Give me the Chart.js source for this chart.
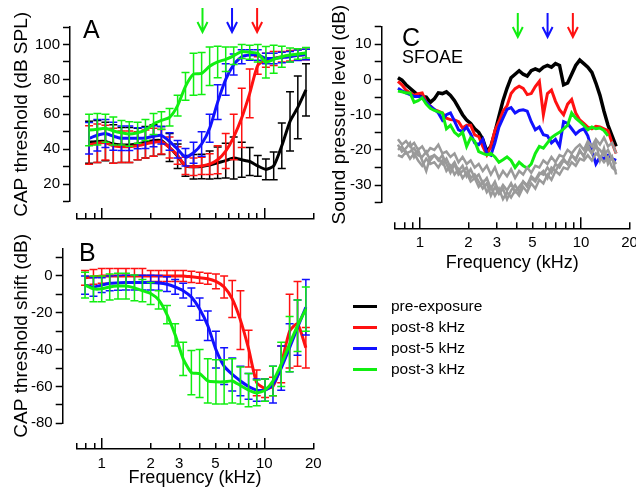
<!DOCTYPE html>
<html><head><meta charset="utf-8">
<script src="https://cdn.jsdelivr.net/npm/chart.js@4.4.1/dist/chart.umd.min.js"></script>
<style>
html,body{margin:0;padding:0;background:#fff;}
#wrap{position:relative;width:636px;height:491px;overflow:hidden;font-family:"Liberation Sans",Arial,sans-serif;color:#000;}
canvas{position:absolute;}
.t{position:absolute;white-space:nowrap;line-height:1;color:#000;}
.ln{position:absolute;height:3px;width:24px;}
</style></head><body><div id="wrap">
<canvas id="aP" width="330" height="240" style="left:0;top:0"></canvas>
<canvas id="aX" width="330" height="240" style="left:0;top:0"></canvas>
<canvas id="bP" width="330" height="261" style="left:0;top:230px"></canvas>
<canvas id="bX" width="330" height="261" style="left:0;top:230px"></canvas>
<canvas id="cP" width="330" height="280" style="left:320px;top:0"></canvas>
<canvas id="cX" width="330" height="280" style="left:320px;top:0"></canvas>
<div class="t" style="left:83px;top:17px;font-size:25px">A</div>
<div class="t" style="left:79px;top:240px;font-size:25px">B</div>
<div class="t" style="left:402px;top:25px;font-size:25px">C</div>
<div class="t" style="left:402px;top:48px;font-size:18px">SFOAE</div>
<div id="legend"></div>
</div>
<script>
// ---------- data ----------
const seriesNames = ['pre-exposure', 'post-8 kHz', 'post-5 kHz', 'post-3 kHz'];
const seriesColors = ['#000000', '#ff1111', '#1111ff', '#11ee11'];
const noiseColor = '#9a9a9a';

const xTickVals = [0.7, 0.8, 0.9, 1, 2, 3, 4, 5, 6, 7, 8, 9, 10, 20];
const xMajorTicks = [1, 10];
const xTickLabels = [1, 2, 3, 5, 10, 20];
const arrowFreqs = [4.05, 6.2, 8.9];
const arrowColors = ['#11ee11', '#1111ff', '#ff1111'];

// Panel A / B : CAP frequencies (kHz)
const capFreqs = [0.79, 0.89, 1.0, 1.12, 1.26, 1.41, 1.59, 1.78, 2.0, 2.24, 2.52, 2.83, 3.17, 3.56, 4.0, 4.49, 5.04, 5.66, 6.35, 7.13, 8.0, 8.98, 10.1, 11.3, 12.7, 14.3, 16.0, 18.0];

// Panel A : CAP thresholds (dB SPL) and error bars
const capPre   = [44, 44.5, 44.5, 43, 42.5, 42.5, 43, 44, 45, 45, 41, 36, 30.5, 30, 30.2, 31, 32.3, 33.5, 35, 34, 33, 30.5, 28.5, 30.5, 42, 56, 64, 74];
const capPost8 = [42.5, 43.5, 43.8, 42, 41.5, 41.5, 42, 43, 44, 44.3, 41, 36.5, 30.5, 30, 30.5, 31.5, 34, 39, 47, 58, 72, 88, 91, 92, 93, 93.5, 94, 94.2];
const capPost5 = [46.3, 48, 49, 47.5, 46.3, 46.3, 46.3, 46.5, 47.5, 48, 44.5, 40, 35.5, 38, 43, 52, 67, 80, 88.5, 93, 94, 94, 92, 92, 92.5, 93, 93.8, 94.2];
const capPost3 = [51, 51.5, 52, 50.5, 49.5, 48.7, 49.5, 51, 54.5, 56.5, 58.3, 65, 76, 83, 83.4, 87.5, 90, 91.5, 93.5, 96, 95.5, 95, 89.8, 91.5, 93, 94, 94.5, 95.2];
const capPreErr   = [12, 12, 11, 11, 10, 10, 9, 9, 9, 8, 8, 7, 6, 7, 7, 8, 9, 10, 12, 10, 8, 6, 6, 8, 13, 17, 18, 15];
const capPost8Err = [11, 11, 10, 10, 9, 9, 8, 8, 8, 7, 6, 5, 5, 5, 5, 6, 8, 10, 13, 17, 14, 5, 4, 4, 3, 3, 3, 3];
const capPost5Err = [9, 9, 8, 8, 7, 7, 6, 6, 6, 5, 5, 5, 5, 6, 7, 8, 10, 9, 6, 4, 3, 3, 3, 3, 3, 3, 3, 3];
const capPost3Err = [9, 9, 8, 8, 7, 7, 6, 6, 6, 5, 5, 6, 8, 12, 12, 11, 9, 7, 5, 4, 4, 5, 9, 8, 6, 4, 3, 3];

// Panel B : CAP threshold shift (dB) and error bars
const shift8 = [-1, -0.5, 0, 0, 0, 0, 0, 0, 0, 0, 0, 0, 0, -0.5, -1, -1.5, -3, -6, -12.5, -24, -39.5, -58, -61, -60, -48, -30, -26, -39];
const shift5 = [-5, -6, -5, -4, -3.8, -3.6, -3.6, -3.6, -3.6, -3.8, -4.5, -6, -8, -11.5, -18, -27, -40, -49, -53.5, -57, -60, -62, -62, -59, -50, -39, -28, -17];
const shift3 = [-5, -7, -7, -6, -5.5, -5.5, -6.5, -8, -9.5, -13, -21, -32, -45, -52.5, -53, -57, -57.5, -57.5, -57, -59.5, -62, -63.5, -62, -57, -48, -37, -27, -18];
const shift8Err = [4, 4, 4, 4, 4, 4, 4, 4, 3, 3, 3, 3, 3, 3, 3, 3, 4, 6, 10, 16, 10, 7, 5, 5, 10, 20, 23, 11];
const shift5Err = [5, 5, 4, 4, 4, 4, 4, 4, 4, 4, 4, 4, 4, 5, 6, 8, 10, 10, 9, 8, 7, 6, 6, 10, 12, 13, 15, 15];
const shift3Err = [7, 7, 7, 7, 7, 7, 7, 6, 6, 5, 5, 6, 9, 12, 13, 12, 12, 12, 12, 10, 9, 7, 6, 8, 12, 15, 14, 12];

// Panel C : SFOAE frequencies (kHz) and levels (dB)
const oaeFreqs = [0.730, 0.773, 0.819, 0.868, 0.920, 0.974, 1.032, 1.094, 1.159, 1.228, 1.301, 1.378, 1.460, 1.547, 1.639, 1.736, 1.839, 1.949, 2.065, 2.187, 2.317, 2.455, 2.601, 2.756, 2.920, 3.093, 3.277, 3.472, 3.679, 3.897, 4.129, 4.375, 4.635, 4.910, 5.202, 5.512, 5.839, 6.187, 6.554, 6.944, 7.357, 7.795, 8.258, 8.749, 9.270, 9.821, 10.41, 11.02, 11.68, 12.37, 13.11, 13.89, 14.71, 15.59, 16.52];
const oaePre   = [0.5, -0.2, -1.5, -2.5, -3.5, -4.5, -4.8, -5, -6.5, -5.5, -3.8, -4, -3.5, -4.5, -6, -8, -10, -11.5, -12.5, -14, -15, -17, -20.5, -19, -15, -10.5, -6, -2.5, 0.5, 1.5, 2.5, 1.5, 1, 2.5, 3, 2.5, 3.5, 4, 3.5, 4.5, 4, -1.5, -1, 1.5, 4, 5.5, 4.5, 3.5, 2, -1, -4.5, -9, -13, -16, -19];
const oaePost8 = [-0.5, -1.5, -3, -3.8, -4.5, -4, -3.8, -6.5, -7.5, -8.6, -9, -9.5, -11, -11.4, -11.5, -12, -13.8, -13, -13, -15.7, -16.2, -19, -21.4, -19, -14.5, -12, -9, -7.5, -4, -2.6, -1.9, -2.5, -4.3, -4, -2, -0.5, -10, -4, -3, -6.2, -8.6, -10, -7, -5.7, -9.5, -11.5, -12.5, -13.5, -14, -13.3, -13.5, -14, -14.5, -18, -21];
const oaePost5 = [-2.5, -3.2, -3.8, -4.3, -4.8, -4.8, -5, -6.5, -7.6, -8.5, -9.5, -11.5, -10, -9.5, -11.8, -14.3, -14.8, -13.5, -15.5, -18, -18.5, -17, -21, -21.5, -18, -13.5, -11, -8.5, -8, -9.5, -8.8, -8.6, -9, -12, -14.3, -13.5, -15.7, -16, -18, -17, -19, -12, -12.5, -14, -15.5, -14.5, -14, -16, -20, -24, -22, -22.5, -21.5, -22.5, -23];
const oaePost3 = [-3.3, -3.5, -3.8, -3.8, -6.5, -6, -5.2, -7, -8.2, -8.8, -9.2, -9.5, -14, -13, -15, -16, -15, -19, -16.5, -17.5, -20.5, -21, -21.4, -21, -22, -23.5, -22.8, -22, -23, -25, -23.5, -24.5, -25.2, -24, -21, -19, -19.5, -18, -16.5, -15.7, -15, -14, -13, -9.5, -11, -12, -13, -14.3, -13.5, -14, -13.8, -14.5, -16];
const noise1 = [-17, -18.5, -17.5, -19, -18, -20, -19, -21, -19.5, -20, -18.5, -21, -20.5, -22, -21, -23.5, -22, -24, -23, -25, -24, -26, -24.5, -27, -25, -28, -26, -27.5, -25.5, -28, -26, -27, -25, -26.5, -24.5, -25, -23, -24, -22, -23.5, -21.5, -22, -20, -21, -19.5, -18.5, -20, -17.5, -19, -17, -18.5, -16.5, -19, -18, -21];
const noise2 = [-20, -19, -21, -20.5, -19.5, -21.5, -22, -20.5, -23, -21.5, -22.5, -24, -22.5, -25, -23.5, -26, -24.5, -27.5, -25.5, -28, -27, -29.5, -28, -31, -29, -32, -30, -31.5, -29.5, -32, -30.5, -29, -30, -27.5, -28.5, -26.5, -27, -25, -26.5, -24, -25, -23, -24, -21.5, -22.5, -20.5, -21.5, -19.5, -21, -19, -20, -21.5, -20, -22.5, -24];
const noise3 = [-21.5, -22, -20.5, -22.5, -21, -23, -24.5, -22.5, -24, -23.5, -25, -23, -26, -24.5, -27, -25.5, -28, -26.5, -29, -28, -30.5, -29, -32, -30.5, -33, -31, -34, -32, -33.5, -31.5, -33, -30.5, -32, -29.5, -31, -28.5, -29.5, -27, -28.5, -26, -27, -25, -25.5, -23.5, -24.5, -22.5, -23, -21.5, -23, -21, -22, -23.5, -22, -25, -26];
const noise4 = [-18.5, -20.5, -19.5, -18, -22, -20, -23, -26, -22, -21.5, -23, -21.5, -24, -26.5, -24, -27, -26, -25, -28, -27, -29, -31, -29.5, -33, -30.5, -32.5, -31, -34, -31.5, -30, -32, -29, -30.5, -28, -29, -27, -26, -28, -25, -26, -24, -22.5, -24, -21.5, -23, -20, -22, -18.5, -21, -18, -23, -19.5, -24, -22, -27];

// ---------- layout ----------
const XMIN = 0.7, XMAX = 20;
const FONT = "'Liberation Sans', Arial, sans-serif";
Chart.defaults.font.family = FONT;
Chart.defaults.color = '#000';
const tickFont = {size: 15, family: FONT};
const titleFont = {size: 18, family: FONT};
const yTitleFont = {size: 19, family: FONT};

const geoA = {W: 330, H: 240, padLeft: 10, yAxisX: 70, plotTop: 27, plotBottom: 201.7, xAxisY: 219, xLeft: 76.5, xRight: 313.3, xH: 5};
const geoB = {W: 330, H: 261, padLeft: 10, yAxisX: 62.7, plotTop: 18.3, plotBottom: 193.3, xAxisY: 219, xLeft: 76.5, xRight: 313.3, xH: 39.8};
const geoC = {W: 330, H: 280, padLeft: 8.5, yAxisX: 61.7, plotTop: 26.7, plotBottom: 202.7, xAxisY: 228.3, xLeft: 75, xRight: 309.5, xH: 45.5};

const errorBars = {
  id: 'errorBars',
  beforeDatasetDraw(chart, args) {
    const ds = chart.data.datasets[args.index];
    if (!ds.errors) return;
    const xs = chart.scales.x, ys = chart.scales.y, ctx = chart.ctx;
    ctx.save();
    ctx.strokeStyle = ds.borderColor;
    ctx.lineWidth = 1.5;
    ds.data.forEach((p, i) => {
      const e = ds.errors[i];
      if (e == null || p.y == null) return;
      const x = xs.getPixelForValue(p.x);
      const y1 = ys.getPixelForValue(p.y - e), y2 = ys.getPixelForValue(p.y + e);
      ctx.beginPath();
      ctx.moveTo(x, y1); ctx.lineTo(x, y2);
      ctx.moveTo(x - 4, y1); ctx.lineTo(x + 4, y1);
      ctx.moveTo(x - 4, y2); ctx.lineTo(x + 4, y2);
      ctx.stroke();
    });
    ctx.restore();
  }
};
const arrows = {
  id: 'arrows',
  afterDraw(chart, args, opts) {
    if (!opts || !opts.freqs) return;
    const ctx = chart.ctx, xs = chart.scales.x;
    opts.freqs.forEach((f, i) => {
      const x = xs.getPixelForValue(f);
      ctx.save();
      ctx.strokeStyle = opts.colors[i];
      ctx.lineWidth = 2;
      ctx.beginPath();
      ctx.moveTo(x, opts.top); ctx.lineTo(x, opts.bottom);
      ctx.moveTo(x - 5, opts.bottom - 10); ctx.lineTo(x, opts.bottom); ctx.lineTo(x + 5, opts.bottom - 10);
      ctx.stroke();
      ctx.restore();
    });
  }
};

function pts(freqs, vals) {
  const out = [];
  vals.forEach((v, i) => { if (v !== null && v !== undefined) out.push({x: freqs[i], y: v}); });
  return out;
}
function ticksFrom(min, max, step) { const t = []; for (let v = min; v <= max + 1e-9; v += step) t.push(Math.round(v * 100) / 100); return t; }

function plotChart(id, geo, yCfg, datasets, arrowCfg) {
  const D = (geo.xRight - geo.xLeft) / Math.log10(XMAX / XMIN);
  const pMin = Math.pow(10, Math.log10(XMIN) - (geo.xLeft - geo.yAxisX) / D);
  return new Chart(document.getElementById(id), {
    type: 'line',
    data: {datasets},
    options: {
      responsive: false, animation: false, devicePixelRatio: 1,
      layout: {padding: {left: geo.padLeft, top: geo.plotTop, right: geo.W - geo.xRight, bottom: geo.H - geo.plotBottom}},
      plugins: {legend: {display: false}, tooltip: {enabled: false}, arrows: arrowCfg || {}},
      elements: {point: {radius: 0}},
      scales: {
        x: {type: 'logarithmic', min: pMin, max: XMAX, display: false},
        y: {
          type: 'linear', min: yCfg.min, max: yCfg.max,
          afterBuildTicks: s => { s.ticks = yCfg.ticks.map(v => ({value: v})); },
          afterFit: s => { s.width = geo.yAxisX - geo.padLeft; },
          grid: {drawOnChartArea: false, drawTicks: true, tickLength: 7, tickWidth: 1.5, tickColor: '#000'},
          border: {display: true, color: '#000', width: 1.5},
          ticks: {font: tickFont, color: '#000', padding: 3, autoSkip: false,
                  callback: v => yCfg.labels.includes(v) ? String(v) : ''},
          title: {display: true, text: yCfg.title, font: yTitleFont, color: '#000', padding: {top: 0, bottom: 0}}
        }
      }
    },
    plugins: [errorBars, arrows]
  });
}

function axisChart(id, geo, showLabels, title) {
  return new Chart(document.getElementById(id), {
    type: 'line',
    data: {datasets: []},
    options: {
      responsive: false, animation: false, devicePixelRatio: 1,
      layout: {padding: {left: geo.xLeft, right: geo.W - geo.xRight, top: geo.xAxisY - 11, bottom: geo.H - geo.xAxisY - geo.xH}},
      plugins: {legend: {display: false}, tooltip: {enabled: false}},
      scales: {
        y: {display: false, min: 0, max: 1},
        x: {
          type: 'logarithmic', min: XMIN, max: XMAX, position: 'bottom',
          afterBuildTicks: s => { s.ticks = xTickVals.map(v => ({value: v})); },
          afterFit: s => { s.height = geo.xH; },
          grid: {display: true, drawOnChartArea: true, drawTicks: false, color: '#000', lineWidth: 1.5},
          border: {display: true, color: '#000', width: 1.5,
                   dash: c => (c.type === 'tick' && c.tick && !xMajorTicks.includes(c.tick.value)) ? [0, 5, 6, 40] : []},
          ticks: {display: showLabels, autoSkip: false, maxRotation: 0, minRotation: 0, padding: 6, color: '#000', font: tickFont,
                  callback: v => xTickLabels.includes(v) ? String(v) : ''},
          title: {display: !!title, text: title || '', font: titleFont, color: '#000', padding: {top: 0, bottom: 0}}
        }
      }
    }
  });
}

function lineDs(freqs, vals, color, width, errs) {
  return {data: pts(freqs, vals), borderColor: color, backgroundColor: color, borderWidth: width,
          pointRadius: 0, tension: errs ? 0.2 : 0,
          fill: false, errors: errs || null};
}

// Panel A
plotChart('aP', geoA,
  {min: 10, max: 110, ticks: ticksFrom(10, 110, 10), labels: [20, 40, 60, 80, 100], title: 'CAP threshold (dB SPL)'},
  [
    lineDs(capFreqs, capPost3, seriesColors[3], 3, capPost3Err),
    lineDs(capFreqs, capPost5, seriesColors[2], 3, capPost5Err),
    lineDs(capFreqs, capPost8, seriesColors[1], 3, capPost8Err),
    lineDs(capFreqs, capPre, seriesColors[0], 3, capPreErr)
  ],
  {freqs: arrowFreqs, colors: arrowColors, top: 8, bottom: 32});
axisChart('aX', geoA, false, '');

// Panel B
plotChart('bP', geoB,
  {min: -80, max: 15, ticks: ticksFrom(-80, 10, 10), labels: [-80, -60, -40, -20, 0], title: 'CAP threshold shift (dB)'},
  [
    lineDs(capFreqs, shift3, seriesColors[3], 3, shift3Err),
    lineDs(capFreqs, shift5, seriesColors[2], 3, shift5Err),
    lineDs(capFreqs, shift8, seriesColors[1], 3, shift8Err)
  ], null);
axisChart('bX', geoB, true, 'Frequency (kHz)');

// Panel C
plotChart('cP', geoC,
  {min: -35, max: 15, ticks: ticksFrom(-35, 15, 5), labels: [-30, -20, -10, 0, 10], title: 'Sound pressure level (dB)'},
  [
    lineDs(oaeFreqs, noise1, noiseColor, 2.5),
    lineDs(oaeFreqs, noise2, noiseColor, 2.5),
    lineDs(oaeFreqs, noise3, noiseColor, 2.5),
    lineDs(oaeFreqs, noise4, noiseColor, 2.5),
    lineDs(oaeFreqs, oaePost3, seriesColors[3], 3),
    lineDs(oaeFreqs, oaePost5, seriesColors[2], 3),
    lineDs(oaeFreqs, oaePost8, seriesColors[1], 3),
    lineDs(oaeFreqs, oaePre, seriesColors[0], 3.5)
  ],
  {freqs: arrowFreqs, colors: arrowColors, top: 13, bottom: 37});
axisChart('cX', geoC, true, 'Frequency (kHz)');

// Legend
const leg = document.getElementById('legend');
seriesNames.forEach((name, i) => {
  const cy = 306 + i * 21;
  const l = document.createElement('div');
  l.className = 'ln'; l.style.left = '353px'; l.style.top = (cy - 1.5) + 'px'; l.style.background = seriesColors[i];
  leg.appendChild(l);
  const t = document.createElement('div');
  t.className = 't'; t.style.left = '391px'; t.style.top = (cy - 7.6) + 'px'; t.style.fontSize = '15.5px';
  t.textContent = name;
  leg.appendChild(t);
});
</script>
</body></html>
